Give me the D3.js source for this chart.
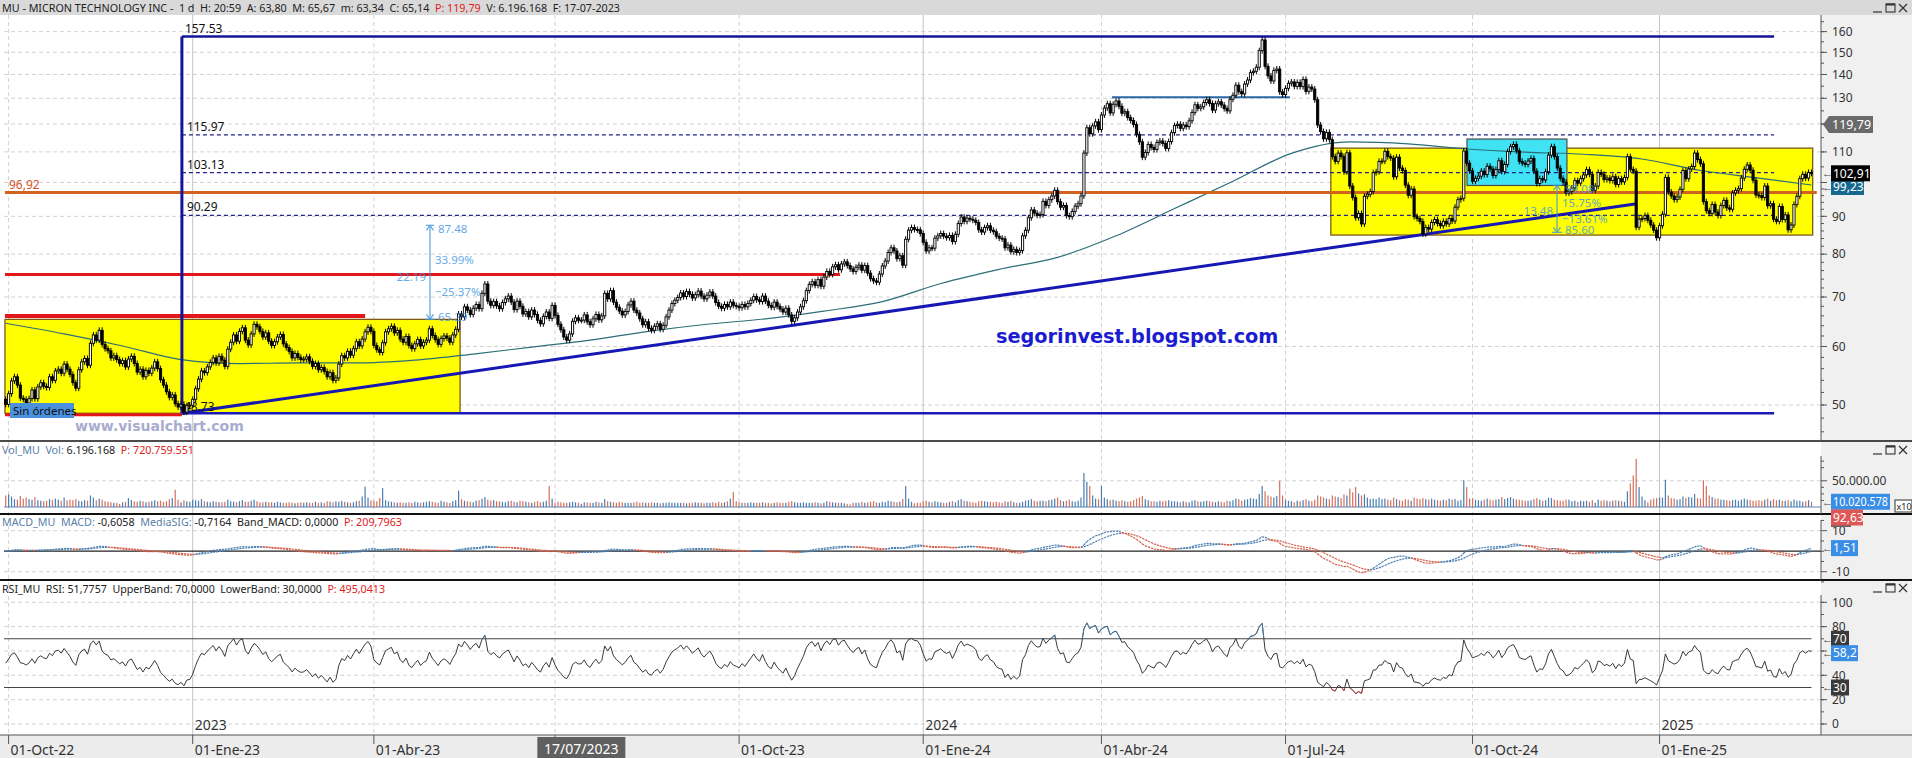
<!DOCTYPE html>
<html>
<head>
<meta charset="utf-8">
<script src="https://cdn.jsdelivr.net/npm/d3@7/dist/d3.min.js"></script>
<style>
  html, body { margin:0; padding:0; background:#ffffff; overflow:hidden; }
  svg { display:block; font-family:"Noto Sans","Open Sans",Arial,sans-serif; }
  text { white-space: pre; }
</style>
</head>
<body>
<svg id="chart" width="1912" height="758"></svg>
<script>
// ================= DATA =================
const firstDay = "2022-09-30", lastDay = "2025-03-20";
const holidays = ["2022-11-24","2022-12-26","2023-01-02","2023-01-16","2023-02-20","2023-04-07","2023-05-29","2023-06-19","2023-07-04","2023-09-04","2023-11-23","2023-12-25","2024-01-01","2024-01-15","2024-02-19","2024-03-29","2024-05-27","2024-06-19","2024-07-04","2024-09-02","2024-11-28","2024-12-25","2025-01-01","2025-01-09","2025-01-20","2025-02-17"];
const firstOpen = 50.9;

const close2022 = [50.1,
 51.8,53.9,54.6,53.2,51.1,50.9,50.3,51.0,52.4,51.0,52.9,53.6,53.0,52.8,54.6,54.0,55.6,55.9,55.2,56.8,55.9,
 55.0,53.6,52.7,55.8,57.2,57.8,56.6,60.6,62.2,61.2,63.1,60.4,59.6,59.2,57.9,58.3,57.6,56.9,57.4,56.3,57.7,
 58.2,56.9,55.4,55.9,54.6,55.7,55.2,56.1,57.2,56.0,54.1,53.2,52.1,51.2,51.6,50.2,49.7,50.1,48.9,49.9,49.98];
const close2023 = [
 50.9,52.6,54.2,55.6,55.3,56.3,57.1,57.9,57.0,58.2,57.5,56.4,59.5,60.8,62.2,61.0,62.9,63.6,61.2,60.3,
 62.4,64.3,63.8,62.9,61.8,62.6,61.0,60.2,60.9,61.8,62.3,60.5,59.8,59.1,57.9,58.7,58.0,57.6,57.7,
 58.1,57.3,56.4,56.9,55.8,56.2,55.5,54.6,55.3,54.0,54.4,56.8,58.3,57.9,59.1,58.4,59.6,60.9,60.1,61.4,62.8,63.7,62.9,
 60.2,59.4,58.9,60.7,62.8,63.4,63.9,62.6,63.1,61.4,60.8,61.9,60.2,59.6,60.5,61.3,60.1,60.8,61.2,
 63.4,62.1,61.3,60.4,61.5,62.0,61.6,60.8,62.2,63.3,66.4,65.8,67.9,67.2,66.3,67.6,68.4,67.5,70.8,72.9,69.1,68.2,
 69.0,68.1,67.5,68.8,69.6,70.2,68.9,67.3,69.1,68.0,66.4,66.9,65.8,67.2,66.3,65.1,64.4,65.9,66.8,65.5,68.2,
 66.1,64.3,63.2,61.8,61.2,62.4,64.9,65.6,65.1,65.14,66.2,64.8,64.2,65.4,66.3,65.2,66.0,70.8,69.6,71.4,
 68.9,67.8,67.0,66.2,66.9,68.3,69.1,67.2,66.6,65.4,64.2,64.8,63.5,63.1,63.9,64.4,63.3,64.1,65.8,67.2,68.6,69.3,69.9,
 70.9,70.1,71.2,70.6,69.8,70.5,71.3,70.2,69.6,70.4,71.1,70.2,68.8,68.0,67.6,68.4,67.9,68.9,68.2,68.0,
 67.7,68.4,67.9,68.6,69.3,70.1,69.4,69.0,70.2,69.1,68.2,67.8,68.9,68.0,67.4,66.8,67.6,66.2,64.9,65.6,66.8,67.9,
 69.2,71.4,72.8,73.4,72.6,73.9,72.4,74.5,75.8,75.1,76.9,77.4,76.2,77.6,78.1,77.2,76.4,75.8,76.8,77.3,76.1,
 77.2,75.4,74.1,73.6,73.3,75.2,77.1,78.3,80.4,81.6,80.8,78.9,79.6,77.3,83.8,86.2,86.9,86.4,86.3,85.3];
const close2024 = [
 83.0,80.8,81.6,81.5,84.1,84.7,85.3,84.6,84.2,84.8,83.2,85.1,88.0,89.8,88.6,89.5,89.2,88.9,88.3,86.3,85.7,
 86.9,87.4,86.2,85.8,84.6,84.1,83.9,81.6,82.3,80.6,81.2,80.4,80.9,84.7,86.2,89.6,91.8,90.9,90.3,90.5,
 94.3,93.1,94.8,95.9,97.6,94.2,92.6,93.1,90.2,89.9,91.4,92.9,93.6,95.9,109.6,118.6,116.4,119.3,120.8,117.9,
 123.4,126.1,127.8,124.2,127.6,128.9,126.8,124.1,124.7,122.4,121.3,119.8,116.2,113.5,108.2,109.8,112.6,111.5,110.8,113.3,113.8,112.9,
 111.2,113.6,116.8,119.4,119.9,118.4,119.6,119.0,121.2,124.4,127.4,126.0,126.6,128.3,129.4,127.9,125.3,127.8,128.6,127.3,125.9,125.0,
 129.6,131.2,135.4,132.7,131.8,135.9,137.6,140.8,141.4,143.2,150.8,155.9,143.6,139.4,137.2,141.8,142.4,132.6,131.5,
 134.1,136.2,136.8,134.9,136.6,134.8,137.9,132.8,134.6,133.8,129.4,119.6,117.2,114.6,116.9,114.3,108.4,106.8,109.6,108.4,103.4,109.7,
 98.9,95.4,89.6,90.8,87.9,95.8,96.4,97.2,103.1,103.4,106.8,106.9,110.2,108.4,107.9,101.8,108.2,104.6,103.8,99.2,96.1,98.0,
 89.9,89.4,88.6,85.2,86.9,86.5,88.3,89.1,88.0,87.4,88.6,87.9,89.4,88.7,92.6,94.8,95.2,110.3,106.2,103.7,
 100.4,101.3,102.0,103.6,102.5,105.2,104.3,102.2,104.1,107.0,103.5,105.8,110.1,111.8,112.6,110.4,106.8,106.2,105.8,106.9,107.8,103.6,99.7,
 101.2,100.8,103.4,108.9,111.8,108.4,104.6,101.3,100.1,96.8,97.2,98.3,100.6,99.8,101.2,102.4,104.1,102.6,97.6,98.9,
 103.2,102.6,100.9,101.4,100.6,101.8,99.4,101.2,100.2,101.6,108.4,104.2,103.6,87.0,89.2,89.4,90.2,88.9,87.6,86.2,84.2];
const close2025 = [
 87.4,90.6,101.6,97.1,95.9,94.8,95.6,97.9,103.8,101.2,104.3,105.1,109.6,107.4,106.0,94.2,91.6,90.8,93.4,91.2,
 90.2,93.1,94.6,92.4,92.0,96.8,97.6,98.1,101.4,104.2,105.6,103.9,100.7,96.2,96.0,95.4,98.9,93.0,93.6,
 89.2,88.6,92.8,89.1,90.4,86.3,87.6,93.4,95.8,101.2,102.6,101.4,103.2,102.91];

// daily volume, millions of shares
const vol2022 = [22,
 24,20,15,14,21,16,18,15,14,19,13,12,11,12,15,13,16,14,12,18,13,
 14,13,15,12,11,13,12,22,18,13,16,14,11,10,9,8,8,6,9,10,17,
 13,11,10,12,11,9,10,11,13,11,12,10,11,15,17,33,14,9,13,11,10];
const vol2023 = [
 14,13,12,15,11,10,9,11,10,9,9,10,14,11,10,9,11,13,10,10,
 12,14,11,9,9,10,9,9,8,10,9,8,8,9,8,7,8,9,8,
 9,8,8,10,8,9,8,11,10,9,11,10,12,10,9,8,9,11,12,20,39,18,13,
 12,11,17,36,13,11,10,9,8,9,8,8,9,8,10,9,8,9,10,
 11,10,9,8,12,10,9,8,11,13,31,15,12,11,10,9,12,13,16,19,14,12,
 13,11,11,10,9,11,12,10,9,12,11,10,9,8,10,11,9,10,12,40,16,
 8,10,9,8,8,9,10,9,8,6,9,9,8,8,10,9,8,15,11,10,
 9,8,10,9,8,8,8,9,10,8,9,8,8,9,8,8,7,8,8,9,8,8,8,
 8,8,7,8,8,9,8,8,7,8,8,9,8,10,8,9,11,16,29,11,
 9,8,8,8,9,8,8,8,9,8,8,7,8,9,8,8,8,10,11,9,8,8,
 9,8,8,8,9,8,7,8,11,10,9,8,8,8,7,6,5,8,8,8,10,
 8,9,10,11,9,8,10,9,12,11,10,9,10,15,40,16,10,7,8,8];
const vol2024 = [
 11,12,10,9,11,10,9,8,8,10,11,9,13,15,12,11,10,9,8,11,12,
 11,10,10,9,10,9,8,11,10,12,9,8,8,10,12,13,15,12,11,12,
 12,11,13,14,16,18,13,11,12,14,11,10,12,18,65,48,40,22,16,15,
 40,18,15,13,14,12,11,13,11,10,11,13,16,18,21,15,13,11,11,10,12,11,
 12,13,11,11,10,9,11,10,9,12,13,11,10,11,12,11,10,9,11,10,9,12,
 11,13,16,15,12,14,15,17,16,15,25,40,30,22,20,18,21,50,22,
 14,12,11,9,12,11,13,15,12,11,14,22,20,18,16,15,22,20,19,17,24,22,
 35,28,38,26,22,24,18,15,16,15,18,15,16,14,13,18,15,13,12,15,14,12,
 18,16,15,17,15,14,16,14,13,12,14,13,16,14,15,12,13,51,38,16,
 17,14,13,12,14,16,14,13,14,15,19,15,17,19,16,14,14,13,12,12,13,15,17,
 14,12,13,18,17,14,13,12,12,14,14,11,12,10,12,11,12,10,13,8,
 14,12,13,12,11,12,13,12,11,10,30,45,60,92,38,20,13,9,14,16,17];
const vol2025 = [
 18,18,52,22,17,16,14,15,20,17,19,18,25,17,16,51,40,22,19,16,
 16,14,14,13,12,13,14,12,14,16,14,13,12,12,13,12,14,16,12,
 15,13,14,12,12,13,11,14,12,12,10,11,13,10.02];

// long moving average (bar index -> value)
const maBars   = [0,20,40,60,80,100,120,140,160,180,200,220,240,260,280,300,320,340,360,380,400,420,440,460,480,500,520,540,560,580,600,618];
const maValues = [64.5,62.4,60.1,57.6,56.9,57.0,57.0,57.5,58.6,59.9,61.2,62.9,64.3,65.4,67.0,69.0,73.0,76.3,79.2,84.7,92.2,100.4,109.5,113.5,112.8,111.0,109.9,109.2,107.6,103.8,101.4,99.23];

// axes
const priceTicks = [50,60,70,80,90,100,110,120,130,140,150,160];
const priceLabelsShown = [50,60,70,80,90,110,130,140,150,160];
const quarterStarts = ["2022-10-01","2023-01-01","2023-04-01","2023-07-01","2023-10-01","2024-01-01","2024-04-01","2024-07-01","2024-10-01","2025-01-01"];
const quarterLabels = ["01-Oct-22","01-Ene-23","01-Abr-23","","01-Oct-23","01-Ene-24","01-Abr-24","01-Jul-24","01-Oct-24","01-Ene-25"];
const yearStarts = ["2023-01-01","2024-01-01","2025-01-01"];
const yearLabels = ["2023","2024","2025"];
const rsiTicks = [0,20,40,60,80,100];
const rsiLabelsShown = [0,20,40,80,100];
const macdTicks = [-10,10];
const volTicks = [50];

// drawn objects (bar index / price)
const swingHigh = 157.53, swingLow = 48.73, swingBars = [60.3, 605.2];
const fibRatios = [0.382, 0.5, 0.618];
const pivotLevel = 96.92, pivotBars = [-0.25, 619.8];
const redLevels = [75.1, 66.0, 48.5], redEnds = [285.5, 123.0, 60.3];
const zoneBars = [[-0.25, 155.5], [453.5, 618.4]];
const zonePrices = [[48.73, 65.29], [84.9, 111.3]];
const cyanBars = [500.1, 534.3], cyanPrices = [99.08, 114.5];
const trendBars = [60.3, 558.2], trendPrices = [48.73, 93.6];
const plateauBars = [378.6, 439.5], plateauPrice = 130.4;
const measureBars = [145.2, 530.9], measureLow = [65.29, 85.60], measureHigh = [87.48, 99.08];
const cursorDay = "2023-07-17";
const tagTexts = {price:"119,79", volPrev:"92,63", macd:"1,51", rsi:"58,2", vol:"10.020.578"};
const tagValues = {price:119.79, macd:1.51, rsi:58.2};

// ================= LAYOUT =================
const W = 1912, H = 758, axisX = 1821, left = 4;
const barStep = 2.922, firstBarX = 5.7;
const main = [15, 441], volP = [442, 514], macdP = [514, 580], rsiP = [580, 735];

const parseDay = d3.utcParse("%Y-%m-%d"), fmtDay = d3.utcFormat("%Y-%m-%d");
const holSet = new Set(holidays);
const tradingDays = [];
for (let d = parseDay(firstDay); d <= parseDay(lastDay); d = d3.utcDay.offset(d, 1)) {
  const wd = d.getUTCDay();
  if (wd === 0 || wd === 6 || holSet.has(fmtDay(d))) continue;
  tradingDays.push(d);
}
const closes = [].concat(close2022, close2023, close2024, close2025);
const volumes = [].concat(vol2022, vol2023, vol2024, vol2025);
const N = Math.min(tradingDays.length, closes.length, volumes.length);
const bars = d3.range(N).map(i => ({i, open: i ? closes[i-1] : firstOpen, close: closes[i], vol: volumes[i]}));
const dayIndex = s => d3.bisector(d => d).left(tradingDays, parseDay(s));

const x = d3.scaleLinear().domain([0, N - 1]).range([firstBarX, firstBarX + (N - 1) * barStep]);
const yP = d3.scaleLog().domain([44.7, 168.5]).range([main[1], main[0]]);
const yV = d3.scaleLinear().domain([0, 124]).range([507, 442]);
const yM = d3.scaleLinear().domain([-10, 10]).range([571.7, 530.7]);
const yR = d3.scaleLinear().domain([0, 100]).range([724, 602.3]);

// indicators
function ema(arr, n) { const k = 2/(n+1); let e = arr[0]; return arr.map((v,i) => (e = i ? v*k + e*(1-k) : v)); }
const cl = closes.slice(0, N);
const e12 = ema(cl, 12), e26 = ema(cl, 26);
const macd = e12.map((v,i) => v - e26[i]);
const sig = ema(macd, 9);
const rsi = new Array(N);
{ let ag = 0.9, al = 0.9; rsi[0] = 50;
  for (let i = 1; i < N; i++) { const ch = cl[i]-cl[i-1];
    ag = (ag*13 + Math.max(ch,0))/14; al = (al*13 + Math.max(-ch,0))/14;
    rsi[i] = al === 0 ? 100 : 100 - 100/(1 + ag/al); } }

// ================= DRAW =================
const svg = d3.select("#chart");
const defs = svg.append("defs");
function clip(id, x0, y0, x1, y1) { defs.append("clipPath").attr("id", id).append("rect").attr("x", x0).attr("y", y0).attr("width", x1-x0).attr("height", y1-y0); }
clip("cMain", left, main[0], axisX, main[1]);
clip("cVol", left, 456, axisX, volP[1]-1);
clip("cMacd", left, macdP[0]+1, axisX, macdP[1]-1);
clip("cRsi", left, rsiP[0]+1, axisX, rsiP[1]);
clip("cRsiHi", left, rsiP[0]+1, axisX, yR(70));
clip("cRsiLo", left, yR(30), axisX, rsiP[1]);

svg.append("rect").attr("width", W).attr("height", H).attr("fill", "#ffffff");
svg.append("rect").attr("x", axisX).attr("y", 15).attr("width", W-axisX).attr("height", 720).attr("fill", "#f0f0f0");
svg.append("rect").attr("x", 0).attr("y", 0).attr("width", W).attr("height", 15).attr("fill", "#d9d9d9");
svg.append("rect").attr("x", 0).attr("y", 735).attr("width", W).attr("height", 23).attr("fill", "#ececec");

const grid = svg.append("g");
const dash = "4,3", gridCol = "#d2d2d2";
function hgrid(y) { grid.append("line").attr("x1", left).attr("x2", axisX).attr("y1", y).attr("y2", y).attr("stroke", gridCol).attr("stroke-dasharray", dash); }
priceTicks.forEach(p => hgrid(yP(p)));
volTicks.forEach(v => hgrid(yV(v)));
macdTicks.forEach(v => hgrid(yM(v)));
rsiTicks.forEach(v => hgrid(yR(v)));
const qIdx = quarterStarts.map(dayIndex);
quarterStarts.forEach((q, k) => {
  const isYear = yearStarts.includes(q);
  grid.append("line").attr("x1", x(qIdx[k])).attr("x2", x(qIdx[k])).attr("y1", main[0]).attr("y2", rsiP[1])
    .attr("stroke", isYear ? "#c4c4c4" : gridCol).attr("stroke-dasharray", isYear ? null : dash);
});

// ---------- main panel ----------
const gm = svg.append("g").attr("clip-path", "url(#cMain)");
zoneBars.forEach((zb, k) => {
  gm.append("rect").attr("x", x(zb[0])).attr("width", x(zb[1]) - x(zb[0]))
    .attr("y", yP(zonePrices[k][1])).attr("height", yP(zonePrices[k][0]) - yP(zonePrices[k][1]))
    .attr("fill", "#ffff00").attr("stroke", "#7d5a12").attr("stroke-width", 1.3);
});
gm.append("rect").attr("x", x(cyanBars[0])).attr("width", x(cyanBars[1]) - x(cyanBars[0]))
  .attr("y", yP(cyanPrices[1])).attr("height", yP(cyanPrices[0]) - yP(cyanPrices[1]))
  .attr("fill", "#3fe3f3").attr("stroke", "#4a4a4a").attr("stroke-width", 1.2);

function hline(g, price, b0, b1, col, w, da) {
  g.append("line").attr("x1", x(b0)).attr("x2", x(b1)).attr("y1", yP(price)).attr("y2", yP(price))
    .attr("stroke", col).attr("stroke-width", w).attr("stroke-dasharray", da || null);
}
const fibLevels = fibRatios.map(r => swingLow + r * (swingHigh - swingLow));
fibLevels.forEach(v => hline(gm, v, swingBars[0], swingBars[1], "#23238e", 1.2, "4,3"));
const maLine = d3.line().x((d, k) => x(maBars[k])).y(d => yP(d)).curve(d3.curveMonotoneX);
gm.append("path").datum(maValues).attr("d", maLine).attr("fill", "none").attr("stroke", "#2b6f78").attr("stroke-width", 1.2);
hline(gm, pivotLevel, pivotBars[0], pivotBars[1], "#d4621f", 3);
redLevels.forEach((v, k) => hline(gm, v, -0.25, redEnds[k], "#e3161a", k === 1 ? 4 : 3));
hline(gm, swingHigh, swingBars[0], swingBars[1], "#14149a", 2.5);
hline(gm, swingLow, swingBars[0], swingBars[1], "#1a1ab8", 2.5);
gm.append("line").attr("x1", x(swingBars[0])).attr("x2", x(swingBars[0])).attr("y1", yP(swingHigh)).attr("y2", yP(swingLow))
  .attr("stroke", "#14149a").attr("stroke-width", 3);
gm.append("line").attr("x1", x(trendBars[0])).attr("x2", x(trendBars[1])).attr("y1", yP(trendPrices[0])).attr("y2", yP(trendPrices[1]))
  .attr("stroke", "#1717b4").attr("stroke-width", 3);
hline(gm, plateauPrice, plateauBars[0], plateauBars[1], "#2a68a6", 2);

const f2 = d3.format(".2f");
const lab = gm.append("g").attr("font-size", 12).attr("fill", "#111");
lab.append("text").attr("x", x(swingBars[0]) + 3).attr("y", yP(swingHigh) - 4).text(f2(swingHigh));
fibLevels.forEach(v => lab.append("text").attr("x", x(swingBars[0]) + 5).attr("y", yP(v) - 4).text(f2(v)));
lab.append("text").attr("x", x(swingBars[0]) + 2).attr("y", yP(swingLow) - 2).text(f2(swingLow));
lab.append("text").attr("x", 9).attr("y", yP(pivotLevel) - 4).attr("fill", "#d4502a").text(f2(pivotLevel).replace(".", ","));

// candles
const gc = gm.append("g");
gc.selectAll("line").data(bars).join("line")
  .attr("x1", d => x(d.i)).attr("x2", d => x(d.i))
  .attr("y1", d => yP(Math.max(d.open, d.close)) - 3).attr("y2", d => yP(Math.min(d.open, d.close)) + 3)
  .attr("stroke", "#000").attr("stroke-width", 1);
gc.selectAll("rect").data(bars).join("rect")
  .attr("x", d => x(d.i) - 1.1).attr("width", 2.2)
  .attr("y", d => yP(Math.max(d.open, d.close)))
  .attr("height", d => Math.max(1, yP(Math.min(d.open, d.close)) - yP(Math.max(d.open, d.close))))
  .attr("fill", d => d.close >= d.open ? "#ffffff" : "#000000").attr("stroke", "#000").attr("stroke-width", 0.9);

// measures (on top of candles)
const mCol = "#3d95e0";
const gMeas = gm.append("g").attr("opacity", 0.8).attr("font-size", 11.5).attr("fill", mCol);
measureBars.forEach((mb, k) => {
  const xx = x(mb), yh = yP(measureHigh[k]), yl = yP(measureLow[k]);
  const diff = measureHigh[k] - measureLow[k];
  gMeas.append("line").attr("x1", xx).attr("x2", xx).attr("y1", yh).attr("y2", yl).attr("stroke", mCol).attr("stroke-width", 1.3);
  gMeas.append("path").attr("d", `M${xx-3.5},${yh+5}L${xx},${yh}L${xx+3.5},${yh+5}M${xx-4},${yh}H${xx+4}`).attr("fill", "none").attr("stroke", mCol).attr("stroke-width", 1.3);
  gMeas.append("path").attr("d", `M${xx-3.5},${yl-5}L${xx},${yl}L${xx+3.5},${yl-5}M${xx-5},${yl}H${xx+5}`).attr("fill", "none").attr("stroke", mCol).attr("stroke-width", 1.3);
  const span = yl - yh;
  gMeas.append("text").attr("x", xx + 8).attr("y", yh + 8).text(f2(measureHigh[k]));
  gMeas.append("text").attr("x", xx + 5).attr("y", yh + span * 0.37 + 4).text(f2(diff / measureLow[k] * 100) + "%");
  gMeas.append("text").attr("x", xx - 4).attr("y", yh + span * 0.55 + 4).attr("text-anchor", "end").text(f2(diff));
  gMeas.append("text").attr("x", xx + 5).attr("y", yh + span * 0.71 + 4).text(f2(-diff / measureHigh[k] * 100) + "%");
  gMeas.append("text").attr("x", xx + 8).attr("y", yl + 2).text(f2(measureLow[k]));
});

// watermark / texts
svg.append("rect").attr("x", 10).attr("y", 403).attr("width", 64).attr("height", 15).attr("fill", "#4a90dc");
svg.append("text").attr("x", 13).attr("y", 415).attr("font-size", 11.5).attr("fill", "#111").text("Sin órdenes");
svg.append("text").attr("x", 75).attr("y", 431).attr("font-family", "DejaVu Sans").attr("font-weight", "bold").attr("font-size", 14).attr("fill", "#a7adcf").text("www.visualchart.com");
svg.append("text").attr("x", 996).attr("y", 343).attr("font-family", "DejaVu Sans").attr("font-weight", "bold").attr("font-size", 19.3).attr("fill", "#1b1bd0").text("segorinvest.blogspot.com");

// ---------- volume ----------
const gv = svg.append("g").attr("clip-path", "url(#cVol)");
gv.append("line").attr("x1", left).attr("x2", axisX).attr("y1", yV(0)).attr("y2", yV(0)).attr("stroke", "#5a86b0").attr("stroke-width", 1);
gv.selectAll("rect").data(bars).join("rect")
  .attr("x", d => x(d.i) - 0.6).attr("width", 1.2)
  .attr("y", d => yV(d.vol)).attr("height", d => yV(0) - yV(d.vol))
  .attr("fill", d => d.close >= d.open ? "#4a7db0" : "#d4705c");

// ---------- MACD ----------
const gmc = svg.append("g").attr("clip-path", "url(#cMacd)");
gmc.append("line").attr("x1", left).attr("x2", axisX).attr("y1", yM(0)).attr("y2", yM(0)).attr("stroke", "#222").attr("stroke-width", 1.2);
[macd, sig].forEach(series => {
  gmc.selectAll(null).data(d3.range(1, N)).join("line")
    .attr("x1", i => x(i-1)).attr("x2", i => x(i)).attr("y1", i => yM(series[i-1])).attr("y2", i => yM(series[i]))
    .attr("stroke", i => macd[i] >= sig[i] ? "#4a7fb0" : "#d0604c").attr("stroke-width", 1.2).attr("stroke-dasharray", "2,0.8");
});

// ---------- RSI ----------
const gr = svg.append("g").attr("clip-path", "url(#cRsi)");
[70, 30].forEach(v => gr.append("line").attr("x1", left).attr("x2", x(N-1)).attr("y1", yR(v)).attr("y2", yR(v)).attr("stroke", "#444").attr("stroke-width", 1.1));
const rsiLine = d3.line().x((d, i) => x(i)).y(d => yR(d));
gr.append("path").datum(rsi).attr("d", rsiLine).attr("fill", "none").attr("stroke", "#222").attr("stroke-width", 0.9);
svg.append("path").datum(rsi).attr("clip-path", "url(#cRsiHi)").attr("d", rsiLine).attr("fill", "none").attr("stroke", "#4a7fb0").attr("stroke-width", 0.9);
svg.append("path").datum(rsi).attr("clip-path", "url(#cRsiLo)").attr("d", rsiLine).attr("fill", "none").attr("stroke", "#d04040").attr("stroke-width", 0.9);
const yIdx = yearStarts.map(dayIndex);
yearLabels.forEach((t, k) => svg.append("text").attr("x", x(yIdx[k]) + 2).attr("y", 730).attr("font-size", 14).attr("fill", "#333").text(t));

// ---------- separators & axes ----------
[[main[1], 1.5], [macdP[0], 2], [rsiP[0], 2]].forEach(([y, w]) =>
  svg.append("line").attr("x1", 0).attr("x2", W).attr("y1", y).attr("y2", y).attr("stroke", "#111").attr("stroke-width", w));
svg.append("line").attr("x1", 0).attr("x2", W).attr("y1", 735).attr("y2", 735).attr("stroke", "#555").attr("stroke-width", 1.2);
[[main[0], main[1]], [456, volP[1]], [520, macdP[1]], [595, rsiP[1]]].forEach(([a, b]) =>
  svg.append("line").attr("x1", axisX).attr("x2", axisX).attr("y1", a).attr("y2", b).attr("stroke", "#555"));

const ax = svg.append("g").attr("font-size", 12).attr("fill", "#333");
function tick(y, len) { ax.append("line").attr("x1", axisX).attr("x2", axisX + len).attr("y1", y).attr("y2", y).attr("stroke", "#555"); }
function albl(y, t) { ax.append("text").attr("x", axisX + 11).attr("y", y).attr("dy", "0.35em").text(t); }
d3.range(46, 100, 2).forEach(v => tick(yP(v), 3));
d3.range(100, 166, 5).forEach(v => tick(yP(v), 3));
priceTicks.forEach(v => tick(yP(v), 6));
priceLabelsShown.forEach(v => albl(yP(v), v));
[12.5, 25, 37.5, 75, 87.5].forEach(v => tick(yV(v), 3));
volTicks.forEach(v => { tick(yV(v), 6); albl(yV(v), "50.000.00"); });
[-15, -5, 0, 5, 15].forEach(v => tick(yM(v), 3));
macdTicks.forEach(v => { tick(yM(v), 6); albl(yM(v), v); });
d3.range(0, 101, 10).forEach(v => tick(yR(v), 3));
rsiTicks.forEach(v => tick(yR(v), 6));
rsiLabelsShown.forEach(v => albl(yR(v), v));

// tags
function tag(yc, txt, bg, w, arrow, tl) {
  if (arrow) svg.append("text").attr("x", axisX + 1).attr("y", yc).attr("dy", "0.35em").attr("font-size", 11).attr("fill", "#444").text("←");
  svg.append("rect").attr("x", axisX + 10).attr("y", yc - 8).attr("width", w).attr("height", 16).attr("fill", bg);
  const t = svg.append("text").attr("x", axisX + 12).attr("y", yc).attr("dy", "0.36em").attr("font-size", 12).attr("fill", "#fff").text(txt);
  if (tl) t.attr("textLength", tl).attr("lengthAdjust", "spacingAndGlyphs");
}
{
  const yc = yP(tagValues.price);
  svg.append("path").attr("d", `M${axisX+2},${yc}L${axisX+8},${yc-8.5}H${axisX+52}V${yc+8.5}H${axisX+8}Z`).attr("fill", "#6a6a6a");
  svg.append("text").attr("x", axisX + 11).attr("y", yc).attr("dy", "0.36em").attr("font-size", 12.5).attr("fill", "#fff").text(tagTexts.price);
}
tag(yP(maValues[maValues.length-1]) + 2, f2(maValues[maValues.length-1]).replace(".", ","), "#17688e", 33, true);
tag(yP(cl[N-1]), f2(cl[N-1]).replace(".", ","), "#000000", 39, true);
tag(yV(volumes[N-1]), tagTexts.vol, "#3a8ee6", 59, true, 55);
svg.append("rect").attr("x", 1895).attr("y", 500).attr("width", 17).attr("height", 12).attr("fill", "#fff").attr("stroke", "#333");
svg.append("text").attr("x", 1896.5).attr("y", 509.5).attr("font-size", 9).attr("fill", "#222").text("x10");
svg.append("rect").attr("x", axisX + 10).attr("y", 519).attr("width", 20).attr("height", 8).attr("fill", "#666");
tag(517.5, tagTexts.volPrev, "#e05555", 32, false);
tag(yM(tagValues.macd), tagTexts.macd, "#3a8ee6", 27, true);
tag(yR(70), "70", "#3a3a3a", 18, true);
tag(yR(tagValues.rsi), tagTexts.rsi, "#3a8ee6", 27, true);
tag(yR(30), "30", "#3a3a3a", 18, true);

// window controls
function ctrls(y) {
  const g = svg.append("g").attr("stroke", "#333").attr("fill", "none");
  g.append("line").attr("x1", 1873).attr("x2", 1882).attr("y1", y + 4).attr("y2", y + 4).attr("stroke-width", 1.2);
  g.append("rect").attr("x", 1886).attr("y", y - 4).attr("width", 9).attr("height", 8).attr("stroke-width", 1.1);
  g.append("line").attr("x1", 1886).attr("x2", 1895).attr("y1", y - 3.5).attr("y2", y - 3.5).attr("stroke-width", 2);
  g.append("path").attr("d", `M1899,${y-4}L1907,${y+4}M1907,${y-4}L1899,${y+4}`).attr("stroke-width", 1.2);
}
[8, 450, 588].forEach(ctrls);

// headers
function header(y, parts, len) {
  const t = svg.append("text").attr("x", 2).attr("y", y).attr("font-size", 11).attr("textLength", len).attr("lengthAdjust", "spacingAndGlyphs");
  parts.forEach(([s, c]) => t.append("tspan").attr("fill", c).text(s));
}
const dk = "#222", bl = "#5a7fa8", rd = "#e02020";
header(11.5, [["MU - MICRON TECHNOLOGY INC -  1 d  H: 20:59  A: 63,80  M: 65,67  m: 63,34  C: 65,14  ", dk], ["P: 119,79", rd], ["  V: 6.196.168  F: 17-07-2023", dk]], 618);
header(453.5, [["Vol_MU  Vol: ", bl], ["6.196.168  ", dk], ["P: 720.759.551", rd]], 192);
header(526, [["MACD_MU  MACD: ", bl], ["-0,6058  ", dk], ["MediaSIG: ", bl], ["-0,7164  Band_MACD: 0,0000  ", dk], ["P: 209,7963", rd]], 400);
header(592.5, [["RSI_MU  RSI: 51,7757  UpperBand: 70,0000  LowerBand: 30,0000  ", dk], ["P: 495,0413", rd]], 383);

// x axis
const gx = svg.append("g").attr("font-size", 14).attr("fill", "#333");
quarterLabels.forEach((t, k) => {
  const xx = x(qIdx[k]);
  gx.append("line").attr("x1", xx).attr("x2", xx).attr("y1", 735).attr("y2", 744).attr("stroke", "#555");
  if (t) gx.append("text").attr("x", xx + 2).attr("y", 755).text(t);
});
{
  const xc = x(dayIndex(cursorDay));
  svg.append("rect").attr("x", xc - 44).attr("y", 737).attr("width", 88).attr("height", 21).attr("fill", "#606060");
  svg.append("text").attr("x", xc).attr("y", 754).attr("text-anchor", "middle").attr("font-size", 14).attr("fill", "#fff")
    .text(d3.utcFormat("%d/%m/%Y")(parseDay(cursorDay)));
}
</script>
</body>
</html>
